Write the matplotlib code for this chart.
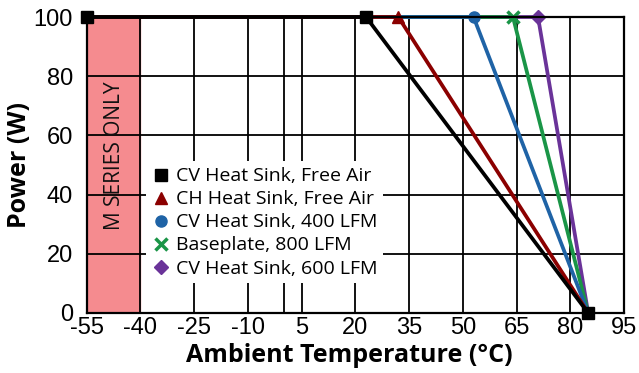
import matplotlib.pyplot as plt

plt.rcParams["axes.unicode_minus"] = False

temp_cv_free = [-55, 23, 85]
temp_ch_free = [-55, 32, 85]
temp_cv_400 = [-55, 53, 85]
temp_base_800 = [-55, 64, 85]
temp_cv_600 = [-55, 71, 85]
potencia = [100, 100, 0]

x_ticks = [-55, -40, -25, -10, 5, 20, 35, 50, 65, 80, 95]
y_ticks = [0, 20, 40, 60, 80, 100]
x_grid_extra = [0]

series = [
    ("CV Heat Sink, Free Air", temp_cv_free, "#000000", "s"),
    ("CH Heat Sink, Free Air", temp_ch_free, "#8b0000", "^"),
    ("CV Heat Sink, 400 LFM", temp_cv_400, "#1f63a6", "o"),
    ("Baseplate, 800 LFM", temp_base_800, "#1a9547", "x"),
    ("CV Heat Sink, 600 LFM", temp_cv_600, "#6a3399", "D"),
]

fig = plt.figure(figsize=(6.39, 3.73), dpi=100)
ax = fig.add_axes([0.1357, 0.1609, 0.8408, 0.7935])

ax.axvspan(-55, -40, color="#f58b8f", zorder=0)
ax.text(-47.3, 53, "M SERIES ONLY", rotation=90, ha="center", va="center",
        fontsize=15, family="Open Sans", color="#111111")

# rejilla
for xv in x_ticks[1:-1] + x_grid_extra:
    ax.axvline(xv, color="black", lw=1.3, zorder=1)
for yv in y_ticks[1:-1]:
    ax.axhline(yv, color="black", lw=1.3, zorder=1)

n = len(series)
for i, (nombre, temps, color, marker) in enumerate(series):
    z = 2 + (n - i)
    mk = [0, 1, 2] if i == 0 else [1]
    mew = 2.5 if marker == "x" else 1
    ax.plot(temps, potencia, color=color, lw=2.7, marker=marker,
            markevery=mk, markersize=8 if marker != "D" else 7,
            markeredgewidth=mew, zorder=z, clip_on=False)

leg_handles = [
    plt.Line2D([], [], color=c, marker=m, linestyle="none",
               markersize=8 if m != "D" else 7, markeredgewidth=2.5 if m == "x" else 1)
    for _, _, c, m in series
]
leg = ax.legend(leg_handles, [s[0] for s in series], loc="lower left",
                bbox_to_anchor=(0.11, 0.10), borderaxespad=0, frameon=True,
                fancybox=False, framealpha=1, edgecolor="none", facecolor="white",
                prop={"family": "Open Sans", "size": 14}, handletextpad=0.25,
                labelspacing=0.26, borderpad=0.3, handlelength=1.0)
leg.set_zorder(2.5)

ax.set_xlim(-55, 95)
ax.set_ylim(0, 100)
ax.set_xticks(x_ticks)
ax.set_yticks(y_ticks)
ax.tick_params(length=0, labelsize=17)
ax.tick_params(axis="x", pad=3)
ax.tick_params(axis="y", pad=10)
for lab in ax.get_xticklabels() + ax.get_yticklabels():
    lab.set_family("Liberation Sans")

for sp in ax.spines.values():
    sp.set_linewidth(1.6)
    sp.set_zorder(9)

ax.set_xlabel("Ambient Temperature (°C)", family="Open Sans", fontweight="bold",
              fontsize=18)
ax.xaxis.set_label_coords(0.489, -0.1)
ax.set_ylabel("Power (W)", family="Open Sans", fontweight="bold", fontsize=18)
ax.yaxis.set_label_coords(-0.102, 0.5)

fig.savefig("out.png", dpi=100)
